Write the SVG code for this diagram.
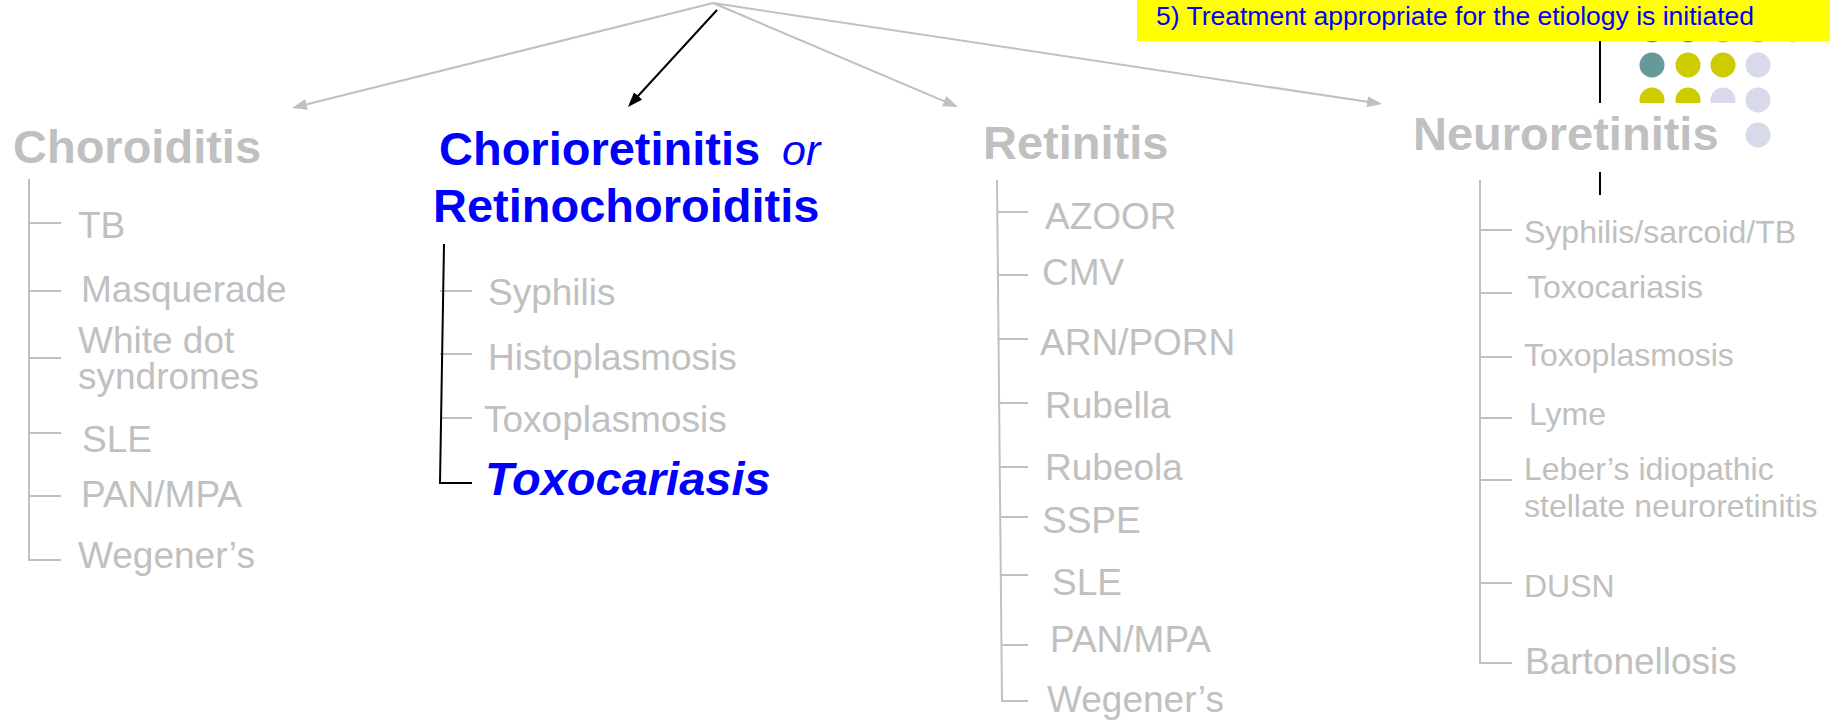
<svg xmlns="http://www.w3.org/2000/svg" width="1830" height="720" viewBox="0 0 1830 720">
<style>
text{font-family:"Liberation Sans",Arial,sans-serif}
.h{font-size:47px;font-weight:bold;fill:#c0c0c0}
.hb{font-size:47px;font-weight:bold;fill:#0000ff}
.i{font-size:37px;fill:#c0c0c0}
.n{font-size:32px;fill:#c0c0c0}
.g{stroke:#c0c0c0;stroke-width:2;fill:none}
.k{stroke:#000;stroke-width:2;fill:none}
.teal{fill:#669999}.yel{fill:#cccc00}.lav{fill:#d9d9ec}
</style>
<defs>
<marker id="ag" markerUnits="userSpaceOnUse" markerWidth="16" markerHeight="12" refX="12" refY="5.5" orient="auto"><path d="M0,0 L15,5.5 L0,11 z" fill="#c0c0c0"/></marker>
<marker id="ak" markerUnits="userSpaceOnUse" markerWidth="16" markerHeight="12" refX="12" refY="5.5" orient="auto"><path d="M0,0 L15,5.5 L0,11 z" fill="#000"/></marker>
</defs>
<rect width="1830" height="720" fill="#fff"/>
<g id="decoration">
<line x1="1600" y1="41" x2="1600" y2="195" class="k"/>
<circle cx="1652" cy="30" r="12.5" class="teal"/><circle cx="1688" cy="30" r="12.5" class="teal"/><circle cx="1723" cy="30" r="12.5" class="yel"/><circle cx="1758" cy="30" r="12.5" class="yel"/><circle cx="1793" cy="30" r="12.5" class="lav"/>
<circle cx="1652" cy="65" r="12.5" class="teal"/><circle cx="1688" cy="65" r="12.5" class="yel"/><circle cx="1723" cy="65" r="12.5" class="yel"/><circle cx="1758" cy="65" r="12.5" class="lav"/>
<circle cx="1652" cy="100" r="12.5" class="yel"/><circle cx="1688" cy="100" r="12.5" class="yel"/><circle cx="1723" cy="100" r="12.5" class="lav"/><circle cx="1758" cy="100" r="12.5" class="lav"/>
<circle cx="1758" cy="135" r="12.5" class="lav"/>
</g>
<g id="step5">
<rect x="1137" y="0" width="693" height="41" fill="#ffff00"/>
<text x="1156" y="25" font-size="26.5" fill="#0000ff">5) Treatment appropriate for the etiology is initiated</text>
</g>
<g id="connectors">
<line x1="713" y1="3" x2="295" y2="107.3" class="g" marker-end="url(#ag)"/>
<line x1="713" y1="3" x2="955.2" y2="105.8" class="g" marker-end="url(#ag)"/>
<line x1="713" y1="3" x2="1379" y2="103.6" class="g" marker-end="url(#ag)"/>
<line x1="717" y1="10" x2="630" y2="104.8" class="k" marker-end="url(#ak)"/>
</g>
<g id="choroiditis">
<text x="13" y="163" class="h">Choroiditis</text>
<path d="M29,179 V560 H61 M29,223 H61 M29,291 H61 M29,358 H61 M29,433 H61 M29,496 H61" class="g"/>
<text x="78" y="238" class="i">TB</text>
<text x="81" y="302" class="i">Masquerade</text>
<text x="78" y="353" class="i">White dot</text>
<text x="78" y="389" class="i">syndromes</text>
<text x="82" y="452" class="i">SLE</text>
<text x="81" y="507" class="i">PAN/MPA</text>
<text x="78" y="568" class="i">Wegener’s</text>
</g>
<g id="chorioretinitis">
<text x="439" y="165" class="hb">Chorioretinitis<tspan x="782" font-size="43" font-weight="normal" font-style="italic">or</tspan></text>
<text x="433" y="222" class="hb">Retinochoroiditis</text>
<path d="M440,291 H472 M440,354 H472 M440,418 H472" class="g"/>
<path d="M444,244 L440,483 H472" class="k"/>
<text x="488" y="305" class="i">Syphilis</text>
<text x="488" y="370" class="i">Histoplasmosis</text>
<text x="484" y="432" class="i">Toxoplasmosis</text>
<text x="485" y="495" font-size="47" font-weight="bold" font-style="italic" fill="#0000ff">Toxocariasis</text>
</g>
<g id="retinitis">
<text x="983" y="159" class="h">Retinitis</text>
<path d="M997,180 L1002,701 H1028 M997,212 H1028 M998,275 H1028 M998,339 H1028 M999,403 H1028 M999,467 H1028 M1000,517 H1028 M1000,575 H1028 M1001,645 H1028" class="g"/>
<text x="1045" y="229" class="i">AZOOR</text>
<text x="1042" y="285" class="i">CMV</text>
<text x="1040" y="355" class="i">ARN/PORN</text>
<text x="1045" y="418" class="i">Rubella</text>
<text x="1045" y="480" class="i">Rubeola</text>
<text x="1042" y="533" class="i">SSPE</text>
<text x="1052" y="595" class="i">SLE</text>
<text x="1050" y="652" class="i">PAN/MPA</text>
<text x="1047" y="712" class="i">Wegener’s</text>
</g>
<g id="neuroretinitis">
<rect x="1395" y="103" width="345" height="69" fill="#fff"/>
<text x="1413" y="150" class="h">Neuroretinitis</text>
<path d="M1480,180 V663 H1512 M1480,230 H1512 M1480,293 H1512 M1480,357 H1512 M1480,418 H1512 M1480,480 H1512 M1480,583 H1512" class="g"/>
<text x="1524" y="243" class="n">Syphilis/sarcoid/TB</text>
<text x="1527" y="298" class="n">Toxocariasis</text>
<text x="1524" y="366" class="n">Toxoplasmosis</text>
<text x="1529" y="425" class="n">Lyme</text>
<text x="1524" y="480" class="n">Leber’s idiopathic</text>
<text x="1524" y="517" class="n">stellate neuroretinitis</text>
<text x="1524" y="597" class="n">DUSN</text>
<text x="1525" y="674" class="i">Bartonellosis</text>
</g>
</svg>
